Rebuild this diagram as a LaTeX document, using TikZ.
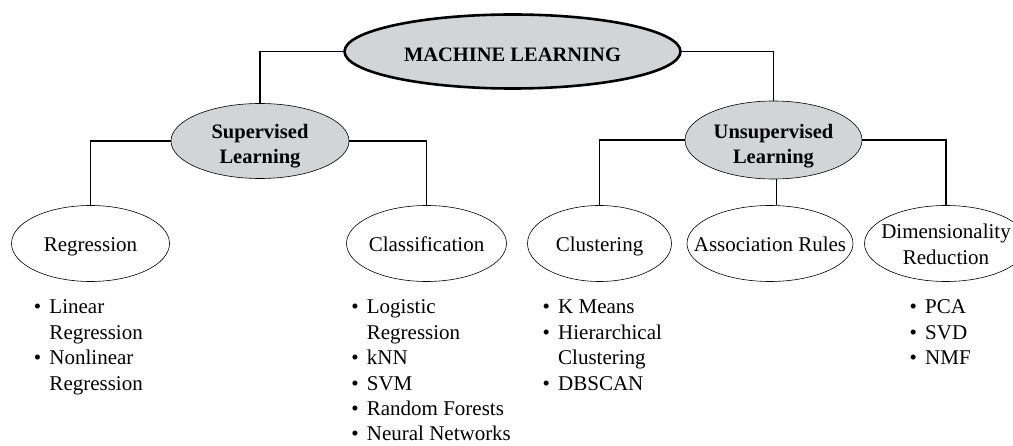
\documentclass[tikz,border=0pt]{standalone}
\usepackage{fontspec}
\setmainfont{Liberation Serif}
\usetikzlibrary{shapes.geometric}

\definecolor{nodegray}{RGB}{211,212,214}

% centred multi-line label whose width does not enlarge the ellipse
\newcommand\ctext[1]{\makebox[0pt]{\begin{tabular}[t]{@{}c@{}}#1\end{tabular}}}
% bullet list, first baseline at the node's base anchor
\newcommand\bul{\makebox[15.5pt][l]{\textbullet}}
\newcommand\blist[1]{\begin{tabular}[t]{@{}l@{}l@{}}#1\end{tabular}}

\tikzset{
  mainell/.style={ellipse, draw, line width=2.6pt, fill=nodegray, inner sep=0pt,
    minimum width=336pt, minimum height=74pt,
    font=\fontsize{20.5}{25.5}\selectfont\bfseries, text height=20.4pt, text depth=0pt},
  subell/.style={ellipse, draw, line width=0.6pt, fill=nodegray, inner sep=0pt,
    font=\fontsize{20.5}{25.5}\selectfont\bfseries},
  leafell/.style={ellipse, draw, line width=0.6pt, fill=white, inner sep=0pt,
    minimum height=76pt, font=\fontsize{21}{26.5}\selectfont},
  oneline/.style={text height=17pt, text depth=0pt},
  listnode/.style={anchor=base west, inner sep=0pt, font=\fontsize{21}{25.4}\selectfont},
  link/.style={line width=1.4pt, black},
}

\begin{document}
\begin{tikzpicture}[x=1pt, y=-1pt]
\useasboundingbox (0,0) rectangle (1013,446);

% root and the two learning types
\node[mainell] (ml) at (512.5,51.5) {\ctext{MACHINE LEARNING}};
\node[subell, minimum width=178pt, minimum height=75pt, text height=14pt, text depth=19.4pt]
  (sup) at (260,141) {\ctext{Supervised\\Learning}};
\node[subell, minimum width=177pt, minimum height=78pt, text height=14pt, text depth=17.4pt]
  (uns) at (773.5,140) {\ctext{Unsupervised\\Learning}};

% task families
\node[leafell, oneline, minimum width=158pt] (reg) at (90.5,243.5) {\ctext{Regression}};
\node[leafell, oneline, minimum width=160pt] (cls) at (426.5,243.5) {\ctext{Classification}};
\node[leafell, oneline, minimum width=144pt] (clu) at (599.5,243.5) {\ctext{Clustering}};
\node[leafell, oneline, minimum width=166pt] (asr) at (770,243.5) {\ctext{Association Rules}};
\node[leafell, minimum width=163pt, text height=14pt, text depth=24.4pt]
  (dim) at (946,243.5) {\ctext{Dimensionality\\Reduction}};

% connectors
\draw[link] (ml.west) -| (sup.north);
\draw[link] (ml.east) -| (uns.north);
\draw[link] (sup.west) -| (reg.north);
\draw[link] (sup.east) -| (cls.north);
\draw[link] (uns.west) -| (clu.north);
\draw[link] ([xshift=3pt]uns.south) -- ([xshift=3pt]uns.south |- asr.north);
\draw[link] (uns.east) -| (dim.north);

% algorithm lists
\node[listnode] (regl) at (33.8,314) {\blist{\bul & Linear\\ & Regression\\ \bul & Nonlinear\\ & Regression}};
\node[listnode] (clsl) at (351.2,314) {\blist{\bul & Logistic\\ & Regression\\ \bul & kNN\\ \bul & SVM\\ \bul & Random Forests\\ \bul & Neural Networks}};
\node[listnode] (clul) at (542.5,314) {\blist{\bul & K Means\\ \bul & Hierarchical\\ & Clustering\\ \bul & DBSCAN}};
\node[listnode] (diml) at (909.5,314) {\blist{\bul & PCA\\ \bul & SVD\\ \bul & NMF}};
\end{tikzpicture}
\end{document}
